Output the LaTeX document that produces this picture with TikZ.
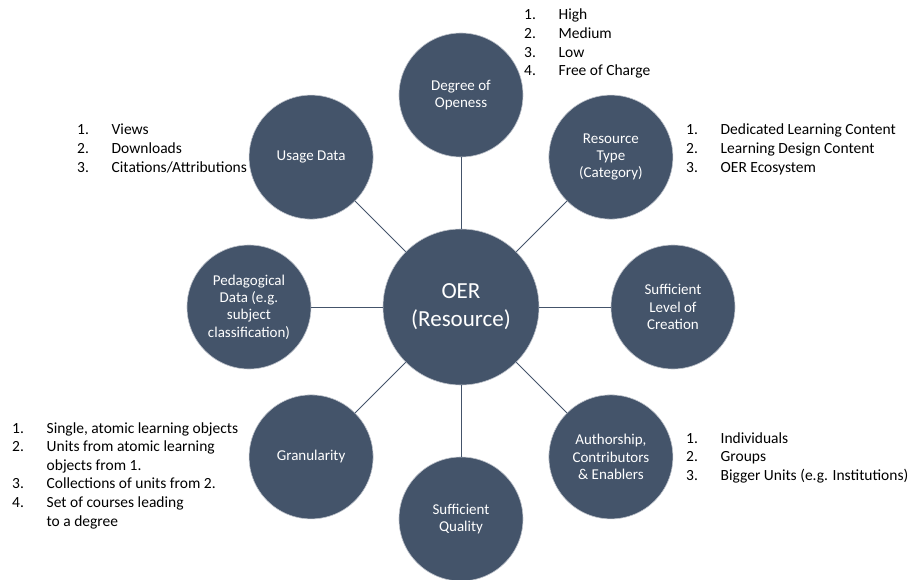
\documentclass[tikz,border=0pt]{standalone}
\usepackage{fontspec}
\setmainfont{Carlito}

\definecolor{slate}{RGB}{68,84,106}

\tikzset{
  hub/.style={circle, fill=slate, draw=slate!35, line width=0.6pt, text=white,
    minimum size=156pt, inner sep=0pt, align=center, font=\fontsize{23}{28}\selectfont},
  aspect/.style={circle, fill=slate, draw=slate!35, line width=0.6pt, text=white,
    minimum size=124pt, inner sep=0pt, align=center, font=\fontsize{15}{17.3}\selectfont},
  itemlist/.style={anchor=base west, inner sep=0pt, font=\fontsize{15.5}{18.6}\selectfont},
  spoke/.style={draw=slate, line width=0.9pt}
}

\begin{document}
\begin{tikzpicture}[x=1pt,y=1pt]
        \useasboundingbox (-461,-272) rectangle (450,307);

        % the resource in the middle
        \node[hub] (oer) at (0,0) {OER\\(Resource)};

        % the aspects around it
        \node[aspect] (deg) at (90:212) {Degree of\\Openess};
        \node[aspect] (type) at (45:212) {Resource\\Type\\(Category)};
        \node[aspect] (level) at (0:212) {Sufficient\\Level of\\Creation};
        \node[aspect] (auth) at (-45:212) {Authorship,\\Contributors\\\& Enablers};
        \node[aspect] (qual) at (-90:212) {Sufficient\\Quality};
        \node[aspect] (gran) at (-135:212) {Granularity};
        \node[aspect] (ped) at (180:212) {Pedagogical\\Data (e.g.\\subject\\classification)};
        \node[aspect] (usage) at (135:212) {Usage Data};

        % draw the spokes
        \draw[spoke] (oer) -- (deg);
        \draw[spoke] (oer) -- (type);
        \draw[spoke] (oer) -- (level);
        \draw[spoke] (oer) -- (auth);
        \draw[spoke] (oer) -- (qual);
        \draw[spoke] (oer) -- (gran);
        \draw[spoke] (oer) -- (ped);
        \draw[spoke] (oer) -- (usage);

        % the lists next to some of the aspects
        \node[itemlist] (degList) at (63,287) {\begin{tabular}[t]{@{}p{34.5pt}@{}l@{}}
            1. & High\\
            2. & Medium\\
            3. & Low\\
            4. & Free of Charge
        \end{tabular}};
        \node[itemlist] (typeList) at (225,172) {\begin{tabular}[t]{@{}p{34.5pt}@{}l@{}}
            1. & Dedicated Learning Content\\
            2. & Learning Design Content\\
            3. & OER Ecosystem
        \end{tabular}};
        \node[itemlist] (usageList) at (-384,172) {\begin{tabular}[t]{@{}p{34.5pt}@{}l@{}}
            1. & Views\\
            2. & Downloads\\
            3. & Citations/Attributions
        \end{tabular}};
        \node[itemlist] (authList) at (225,-136) {\begin{tabular}[t]{@{}p{34.5pt}@{}l@{}}
            1. & Individuals\\
            2. & Groups\\
            3. & Bigger Units (e.g. Institutions)
        \end{tabular}};
        \node[itemlist] (granList) at (-449,-126) {\begin{tabular}[t]{@{}p{34.5pt}@{}l@{}}
            1. & Single, atomic learning objects\\
            2. & Units from atomic learning\\
               & objects from 1.\\
            3. & Collections of units from 2.\\
            4. & Set of courses leading\\
               & to a degree
        \end{tabular}};

\end{tikzpicture}
\end{document}
